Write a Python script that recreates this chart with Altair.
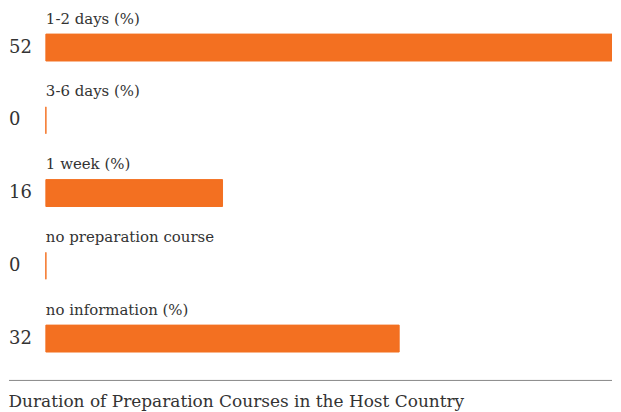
import altair as alt
import pandas as pd

categories = ["1-2 days (%)", "3-6 days (%)", "1 week (%)", "no preparation course", "no information (%)"]
values = [52, 0, 16, 0, 32]
title_text = "Duration of Preparation Courses in the Host Country"

df = pd.DataFrame({"cat": categories, "val": values})

FONT = "DejaVu Serif"
ORANGE = "#f37021"
TEXT = "#333333"

y = alt.Y("cat:N", sort=categories, axis=None,
          scale=alt.Scale(range=[2.5, 367.5], paddingInner=0, paddingOuter=0))
xscale = alt.Scale(domain=[0, 52], range=[37, 613], nice=False, zero=True)

base = alt.Chart(df)

bars = base.mark_bar(height=27, color=ORANGE, stroke=ORANGE, strokeWidth=1, clip=True).encode(
    x=alt.X("val:Q", scale=xscale, axis=None),
    y=y,
)

labels = base.mark_text(align="left", baseline="middle", dy=-29, font=FONT,
                        fontSize=15, color=TEXT).encode(
    x=alt.value(37),
    y=y,
    text="cat:N",
)

nums = base.mark_text(align="left", baseline="middle", font=FONT,
                      fontSize=18, color=TEXT).encode(
    x=alt.value(0),
    y=y,
    text="val:Q",
)

rule = alt.Chart(pd.DataFrame({"a": [0]})).mark_rule(color="#888888", strokeWidth=1).encode(
    x=alt.value(0), x2=alt.value(605), y=alt.value(373)
)

chart = alt.layer(bars, labels, nums, rule).properties(
    width=605, height=373, padding=0,
    title=alt.TitleParams(title_text, orient="bottom", anchor="start", font=FONT,
                          fontSize=17, fontWeight="normal", color=TEXT, offset=13)
).configure_view(stroke=None)

chart.save("out.html", embed_options={"renderer": "svg", "actions": False})
